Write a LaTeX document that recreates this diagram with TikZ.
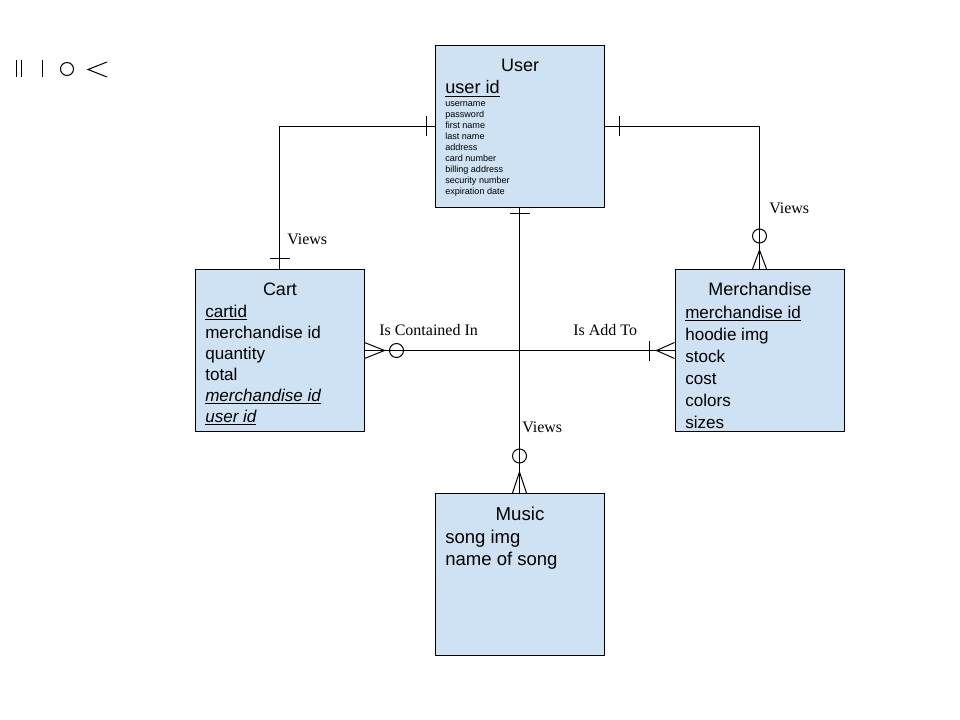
\documentclass[tikz,border=0pt]{standalone}
\usepackage{fontspec}
\setmainfont{Liberation Sans}
\newfontfamily\seriffont{Liberation Serif}
\usetikzlibrary{calc}
\definecolor{entfill}{HTML}{CFE2F3}
\begin{document}
\begin{tikzpicture}[x=0.75pt,y=-0.75pt,
  entity/.style={draw=black,fill=entfill,line width=0.75pt,inner sep=0pt,minimum width=126.75pt,minimum height=121.5pt},
  conn/.style={draw=black,line width=0.75pt},
  mk/.style={draw=black,line width=0.75pt},
  big/.style={anchor=base west,inner sep=0pt,font=\fontsize{12.8}{15}\selectfont},
  ttl/.style={anchor=base,inner sep=0pt,font=\fontsize{13.5}{16}\selectfont},
  small/.style={anchor=base west,inner sep=0pt,font=\fontsize{6.8}{8}\selectfont},
  rel/.style={anchor=base west,inner sep=0pt,font=\seriffont\fontsize{12}{14}\selectfont}]
\useasboundingbox (0,0) rectangle (960,720);
\fill[white] (0,0) rectangle (960,720);

% legend
\draw[mk] (16,60) -- (16,77) (21,60) -- (21,77);
\draw[mk] (42,60) -- (42,77);
\draw[mk] (67,69) circle (6.5);
\draw[mk] (107,62) -- (88,69.5) -- (107,77);

% entities
\node[entity] (user) at (519.5,126.5) {};
\node[entity] (cart) at (279.5,350.5) {};
\node[entity] (merch) at (759.5,350.5) {};
\node[entity] (music) at (519.5,574.5) {};

% User text
\node[ttl] (userT) at (520,72) {User};
\node[big,font=\fontsize{13.6}{16}\selectfont] (userPK) at (445,94) {\underline{user id}};
\foreach \t [count=\i from 0] in {username,password,first name,last name,address,card number,billing address,security number,expiration date}
  \node[small] (uattr\i) at (445,{106.5+11*\i}) {\t};

% Cart text
\node[ttl] (cartT) at (280,296) {Cart};
\node[big] (c1) at (205,317.5) {\underline{cartid}};
\node[big] (c2) at (205,338.5) {merchandise id};
\node[big] (c3) at (205,359.5) {quantity};
\node[big] (c4) at (205,380.5) {total};
\node[big] (c5) at (205,401.5) {\underline{\itshape merchandise id}};
\node[big] (c6) at (205,422.5) {\underline{\itshape user id}};

% Merchandise text
\node[ttl] (merchT) at (760,296) {Merchandise};
\node[big] (m1) at (685,318.5) {\underline{merchandise id}};
\node[big] (m2) at (685,340.5) {hoodie img};
\node[big] (m3) at (685,362.5) {stock};
\node[big] (m4) at (685,384.5) {cost};
\node[big] (m5) at (685,406.5) {colors};
\node[big] (m6) at (685,428.5) {sizes};

% Music text
\node[ttl,font=\fontsize{14}{16}\selectfont] (musicT) at (520,520) {Music};
\node[big,font=\fontsize{13.9}{16}\selectfont] (s1) at (445,543) {song img};
\node[big,font=\fontsize{13.9}{16}\selectfont] (s2) at (445,565) {name of song};

% connectors
\draw[conn] (user.west) -| (cart.north);
\draw[conn] (user.east) -| (merch.north);
\draw[conn] (user.south) -- (music.north);
\draw[conn] (cart.east) -- (merch.west);

% markers: user-cart
\draw[mk] ($(user.west)+(-8,-10)$) -- ($(user.west)+(-8,10)$);
\draw[mk] ($(cart.north)+(-10,-10)$) -- ($(cart.north)+(10,-10)$);
% user-merch
\draw[mk] ($(user.east)+(15,-10)$) -- ($(user.east)+(15,10)$);
\draw[mk] ($(merch.north)+(0,-33)$) circle (7);
\draw[mk] ($(merch.north)+(-7,0)$) -- ($(merch.north)+(0,-19)$) -- ($(merch.north)+(7,0)$);
% user-music
\draw[mk] ($(user.south)+(-10,6)$) -- ($(user.south)+(10,6)$);
\draw[mk] ($(music.north)+(0,-37)$) circle (7);
\draw[mk] ($(music.north)+(-7,0)$) -- ($(music.north)+(0,-21)$) -- ($(music.north)+(7,0)$);
% cart-merch
\draw[mk] ($(cart.east)+(0,-8)$) -- ($(cart.east)+(20,0)$) -- ($(cart.east)+(0,8)$);
\draw[mk] ($(cart.east)+(32,0)$) circle (7);
\draw[mk] ($(merch.west)+(0,-8)$) -- ($(merch.west)+(-18,0)$) -- ($(merch.west)+(0,8)$);
\draw[mk] ($(merch.west)+(-25,-10)$) -- ($(merch.west)+(-25,10)$);

% relationship labels
\node[rel] (lv1) at (287,245) {Views};
\node[rel] (lv2) at (769,214) {Views};
\node[rel] (lv3) at (522,432) {Views};
\node[rel] (lci) at (379,335) {Is Contained In};
\node[rel] (lat) at (573,335) {Is Add To};
\end{tikzpicture}
\end{document}
